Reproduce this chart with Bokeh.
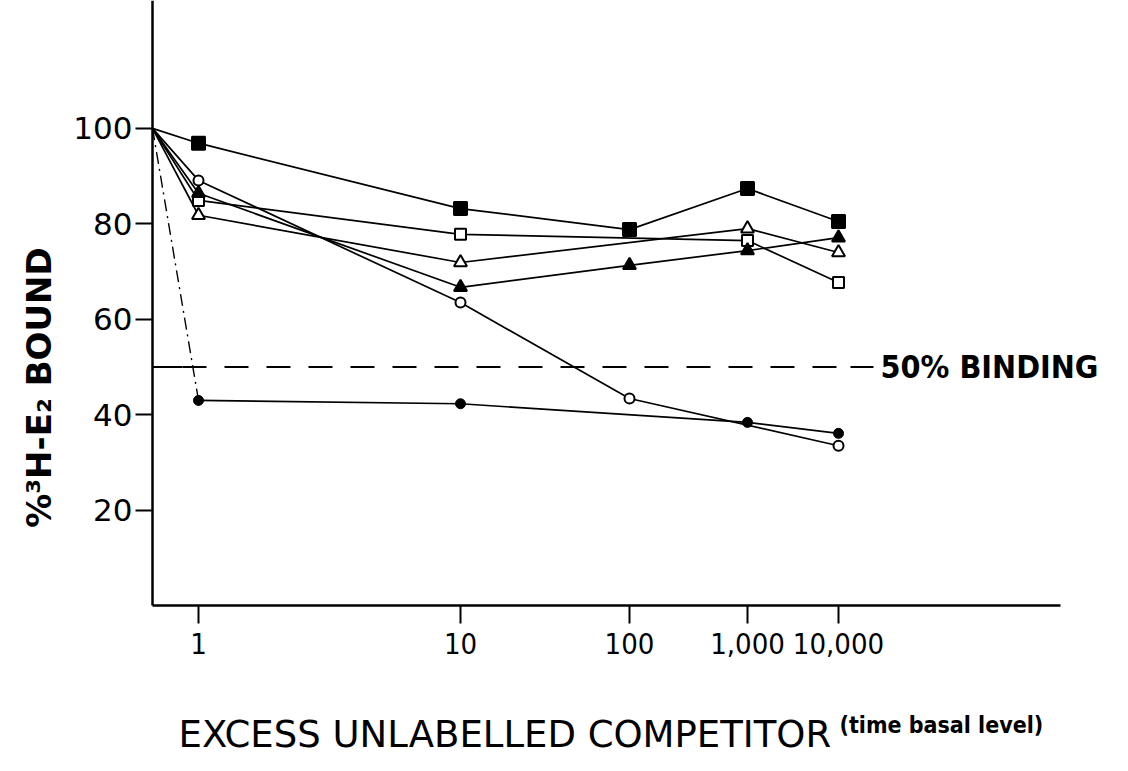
import math
from bokeh.plotting import figure
from bokeh.models import FixedTicker, Label, Range1d
from bokeh.embed import file_html
from bokeh.resources import INLINE

# ---- data -------------------------------------------------------------
dose_labels = ["1", "10", "100", "1,000", "10,000"]
# position of each dose along the original (non-proportional) x axis
dose_pos = [0.46, 3.08, 4.77, 5.95, 6.86]
start_pct = 100          # every curve starts at 100 % on the y axis
binding_level = 50       # "50% BINDING" reference level

filled_square   = [96.9, 83.2, 78.8, 87.4, 80.5]
open_square     = [84.9, 77.8, None, 76.5, 67.7]
open_triangle   = [81.8, 71.9, None, 79.0, 74.0]
filled_triangle = [86.4, 66.7, 71.3, 74.4, 77.1]
open_circle     = [89.1, 63.5, 43.4, None, 33.5]
filled_circle   = [43.0, 42.3, None, 38.4, 36.1]

y_ticks = [20, 40, 60, 80, 100]

FONT = "DejaVu Sans"
FONT_COND = "'DejaVu Sans Condensed', 'DejaVu Sans'"
X0, X1 = -1.52, 9.60       # visible x extent (axis sits at 0)
Y0, Y1 = -31.4, 126.8      # visible y extent (axis sits at 0)
X_AXIS_END = 9.08

# ---- figure -----------------------------------------------------------
p = figure(width=1112, height=755, output_backend="svg", toolbar_location=None,
           x_range=Range1d(X0, X1), y_range=Range1d(Y0, Y1),
           min_border_left=0, min_border_right=0, min_border_top=0,
           min_border_bottom=0)
p.outline_line_color = None
p.grid.visible = False
p.background_fill_color = "white"
p.border_fill_color = "white"

# y axis
ya = p.yaxis[0]
ya.fixed_location = 0
ya.bounds = (0, Y1)
ya.ticker = FixedTicker(ticks=y_ticks)
ya.major_tick_out = 17
ya.major_tick_in = 0
ya.minor_tick_line_color = None
ya.axis_line_width = 2.5
ya.major_tick_line_width = 2
ya.major_label_text_font = FONT
ya.major_label_text_font_size = "31px"
ya.major_label_text_color = "black"
ya.major_label_standoff = 3
ya.axis_label = None

# x axis
xa = p.xaxis[0]
xa.fixed_location = 0
xa.bounds = (0, X_AXIS_END)
xa.ticker = FixedTicker(ticks=dose_pos)
xa.major_label_overrides = {pos: lab for pos, lab in zip(dose_pos, dose_labels)}
xa.major_tick_out = 18
xa.major_tick_in = 0
xa.minor_tick_line_color = None
xa.axis_line_width = 2.5
xa.major_tick_line_width = 2
xa.major_label_text_font = FONT_COND
xa.major_label_text_font_size = "29px"
xa.major_label_text_color = "black"
xa.major_label_standoff = 9
xa.axis_label = None


def series(vals):
    xs = [0.0]
    ys = [start_pct]
    for pos, v in zip(dose_pos, vals):
        if v is not None:
            xs.append(pos)
            ys.append(v)
    return xs, ys


LW = 1.7
styles = [
    (filled_square, "square", 13, "black"),
    (open_square, "square", 11, "white"),
    (open_triangle, "triangle", 13, "white"),
    (filled_triangle, "triangle", 13, "black"),
    (open_circle, "circle", 10, "white"),
]
for vals, marker, size, fill in styles:
    xs, ys = series(vals)
    p.line(xs, ys, line_color="black", line_width=LW)
    p.scatter(xs[1:], ys[1:], marker=marker, size=size, fill_color=fill,
              line_color="black", line_width=2)

# filled circles: dash-dot drop from the origin, then solid
xs, ys = series(filled_circle)
p.line(xs[:2], ys[:2], line_color="black", line_width=1.4, line_dash="12 5 2 5")
p.line(xs[1:], ys[1:], line_color="black", line_width=LW)
p.scatter(xs[1:], ys[1:], marker="circle", size=10, fill_color="black",
          line_color="black")

# 50 % binding line
p.line([0, 0.3], [binding_level, binding_level], line_color="black", line_width=2)
p.line([0.3, 6.98], [binding_level, binding_level], line_color="black",
       line_width=2, line_dash="24 18")
p.line([6.98, 7.21], [binding_level, binding_level], line_color="black", line_width=2)
p.add_layout(Label(x=7.28, y=binding_level, text="50% BINDING",
                   text_font=FONT_COND, text_font_size="32px", text_font_style="bold",
                   text_color="black", text_baseline="middle", text_align="left"))

# axis titles
p.add_layout(Label(x=-1.14, y=45.7, text="%³H-E₂ BOUND", angle=math.pi / 2,
                   text_font=FONT, text_font_size="34px", text_font_style="bold",
                   text_color="black", text_baseline="middle", text_align="center"))
p.add_layout(Label(x=0.26, y=-27.0, text="EXCESS UNLABELLED COMPETITOR",
                   text_font=FONT, text_font_size="37px", text_color="black",
                   text_baseline="alphabetic", text_align="left"))
p.add_layout(Label(x=6.87, y=-25.0, text="(time basal level)",
                   text_font=FONT_COND, text_font_size="23px", text_font_style="bold",
                   text_color="black", text_baseline="alphabetic", text_align="left"))

open("out.html", "w").write(file_html(p, INLINE))
